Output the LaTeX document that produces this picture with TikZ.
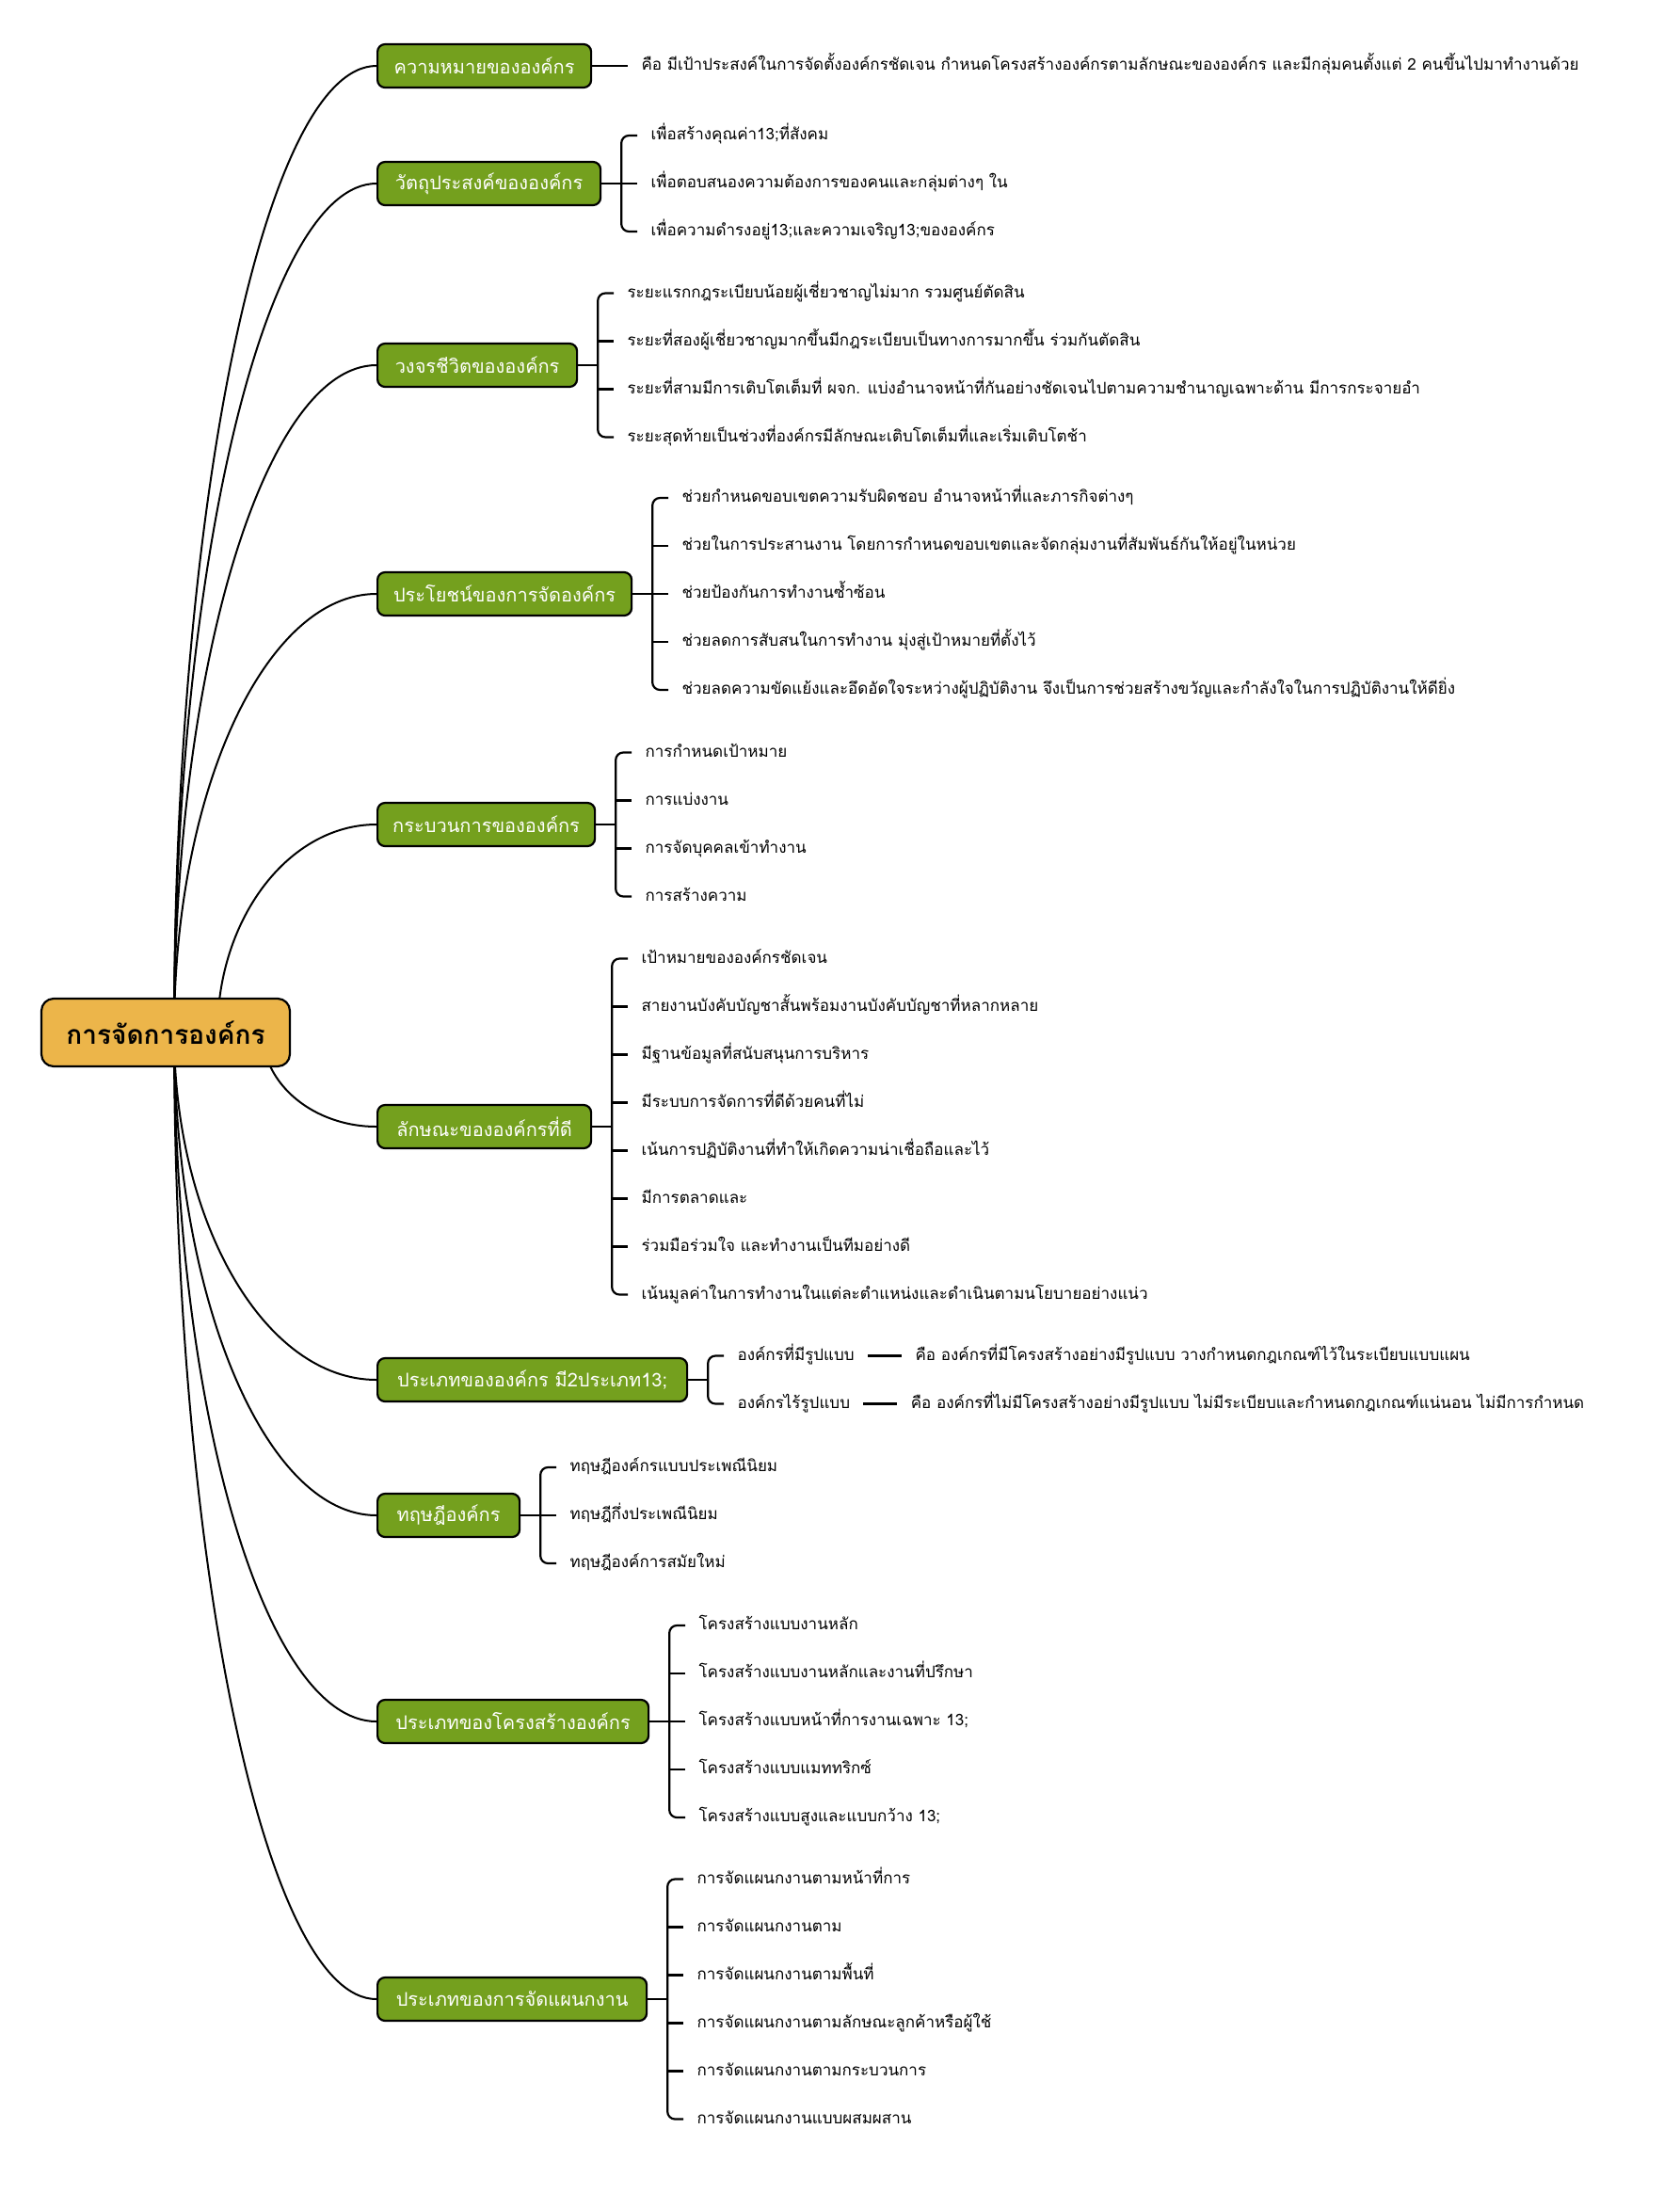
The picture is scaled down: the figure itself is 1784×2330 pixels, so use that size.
\documentclass[tikz,border=0pt]{standalone}
\usepackage{fontspec}
\usetikzlibrary{calc,positioning}
\newfontfamily\thaifont[Script=Thai]{Loma}
\definecolor{rootgold}{HTML}{ECB54A}
\definecolor{topicgreen}{HTML}{74A01E}

\tikzset{
  rootbox/.style={draw=black, line width=1.1pt, rounded corners=6.5pt, fill=rootgold,
    minimum width=132pt, minimum height=36pt,
    font=\thaifont\fontsize{14}{16}\selectfont\bfseries},
  topic/.style={draw=black, line width=1.1pt, rounded corners=4pt, fill=topicgreen,
    text=white, minimum height=23pt, anchor=west,
    font=\thaifont\fontsize{10}{12}\selectfont},
  leaf/.style={anchor=west, inner xsep=7pt, inner ysep=0pt, text height=7pt, text depth=2.5pt,
    font=\thaifont\fontsize{8.5}{10}\selectfont},
  curveline/.style={line width=1pt},
  bracket/.style={line width=1.1pt, rounded corners=4pt},
}

% curve from a hub under the root to the west side of a topic
\newcommand{\rootlink}[2]{%
  \draw[curveline] (#1) .. controls ($(#1)!0.55!(#1|-#2.west)$)
    and ($(#2.west)!0.55!(#1|-#2.west)$) .. (#2.west);}

% leaves of one topic: #1 topic, #2 number of leaves, #3 texts
\newcommand{\topicleaves}[3]{%
  \draw[bracket] (#1.east) -- ++(21,0) coordinate (#1-j);
  \foreach \t [count=\i] in {#3} {
    \node[leaf] (#1-\i) at ($(#1.east)+(38,{(\i-(#2+1)/2)*51})$) {\t};
    \ifnum\i>1 \ifnum\i<#2 \draw[bracket] (#1-j |- #1-\i.west) -- (#1-\i.west); \fi\fi
  }
  \ifnum#2=1
    \draw[bracket] (#1-j) -- (#1-1.west);
  \else
    \draw[bracket] (#1-1.west) -| (#1-#2.west -| #1-j) -- (#1-#2.west);
  \fi}

\begin{document}
\begin{tikzpicture}[x=0.5pt, y=-0.5pt]
  \path[fill=white] (0,0) rectangle (1784,2330);

  % === topics ===
  \node[topic, minimum width=113.5pt] (mean) at (400,70) {ความหมายขององค์กร};
  \node[topic, minimum width=118.5pt] (goal) at (400,195) {วัตถุประสงค์ขององค์กร};
  \node[topic, minimum width=106pt] (life) at (400,388) {วงจรชีวิตขององค์กร};
  \node[topic, minimum width=135pt] (gain) at (400,631) {ประโยชน์ของการจัดองค์กร};
  \node[topic, minimum width=115.5pt] (proc) at (400,876) {กระบวนการขององค์กร};
  \node[topic, minimum width=113.5pt] (good) at (400,1197) {ลักษณะขององค์กรที่ดี};
  \node[topic, minimum width=164.5pt] (kind) at (400,1466) {ประเภทขององค์กร มี2ประเภท13;};
  \node[topic, minimum width=75.5pt] (theo) at (400,1610) {ทฤษฎีองค์กร};
  \node[topic, minimum width=144pt] (struct) at (400,1829) {ประเภทของโครงสร้างองค์กร};
  \node[topic, minimum width=143pt] (dept) at (400,2124) {ประเภทของการจัดแผนกงาน};

  % === leaves ===
  \topicleaves{mean}{1}{{คือ มีเป้าประสงค์ในการจัดตั้งองค์กรชัดเจน กำหนดโครงสร้างองค์กรตามลักษณะขององค์กร และมีกลุ่มคนตั้งแต่ 2 คนขึ้นไปมาทำงานด้วย}}
  \topicleaves{goal}{3}{{เพื่อสร้างคุณค่า13;ที่สังคม},
    {เพื่อตอบสนองความต้องการของคนและกลุ่มต่างๆ ใน},
    {เพื่อความดำรงอยู่13;และความเจริญ13;ขององค์กร}}
  \topicleaves{life}{4}{{ระยะแรกกฎระเบียบน้อยผู้เชี่ยวชาญไม่มาก รวมศูนย์ตัดสิน},
    {ระยะที่สองผู้เชี่ยวชาญมากขึ้นมีกฎระเบียบเป็นทางการมากขึ้น ร่วมกันตัดสิน},
    {ระยะที่สามมีการเติบโตเต็มที่ ผจก. แบ่งอำนาจหน้าที่กันอย่างชัดเจนไปตามความชำนาญเฉพาะด้าน มีการกระจายอำ},
    {ระยะสุดท้ายเป็นช่วงที่องค์กรมีลักษณะเติบโตเต็มที่และเริ่มเติบโตช้า}}
  \topicleaves{gain}{5}{{ช่วยกำหนดขอบเขตความรับผิดชอบ อำนาจหน้าที่และภารกิจต่างๆ},
    {ช่วยในการประสานงาน โดยการกำหนดขอบเขตและจัดกลุ่มงานที่สัมพันธ์กันให้อยู่ในหน่วย},
    {ช่วยป้องกันการทำงานซ้ำซ้อน},
    {ช่วยลดการสับสนในการทำงาน มุ่งสู่เป้าหมายที่ตั้งไว้},
    {ช่วยลดความขัดแย้งและอึดอัดใจระหว่างผู้ปฏิบัติงาน จึงเป็นการช่วยสร้างขวัญและกำลังใจในการปฏิบัติงานให้ดียิ่ง}}
  \topicleaves{proc}{4}{{การกำหนดเป้าหมาย}, {การแบ่งงาน}, {การจัดบุคคลเข้าทำงาน}, {การสร้างความ}}
  \topicleaves{good}{8}{{เป้าหมายขององค์กรชัดเจน},
    {สายงานบังคับบัญชาสั้นพร้อมงานบังคับบัญชาที่หลากหลาย},
    {มีฐานข้อมูลที่สนับสนุนการบริหาร},
    {มีระบบการจัดการที่ดีด้วยคนที่ไม่},
    {เน้นการปฏิบัติงานที่ทำให้เกิดความน่าเชื่อถือและไว้},
    {มีการตลาดและ},
    {ร่วมมือร่วมใจ และทำงานเป็นทีมอย่างดี},
    {เน้นมูลค่าในการทำงานในแต่ละตำแหน่งและดำเนินตามนโยบายอย่างแน่ว}}
  \topicleaves{kind}{2}{{องค์กรที่มีรูปแบบ}, {องค์กรไร้รูปแบบ}}
  \topicleaves{theo}{3}{{ทฤษฎีองค์กรแบบประเพณีนิยม}, {ทฤษฎีกึ่งประเพณีนิยม}, {ทฤษฎีองค์การสมัยใหม่}}
  \topicleaves{struct}{5}{{โครงสร้างแบบงานหลัก},
    {โครงสร้างแบบงานหลักและงานที่ปรึกษา},
    {โครงสร้างแบบหน้าที่การงานเฉพาะ 13;},
    {โครงสร้างแบบแมททริกซ์},
    {โครงสร้างแบบสูงและแบบกว้าง 13;}}
  \topicleaves{dept}{6}{{การจัดแผนกงานตามหน้าที่การ},
    {การจัดแผนกงานตาม},
    {การจัดแผนกงานตามพื้นที่},
    {การจัดแผนกงานตามลักษณะลูกค้าหรือผู้ใช้},
    {การจัดแผนกงานตามกระบวนการ},
    {การจัดแผนกงานแบบผสมผสาน}}

  % คำอธิบายของประเภทองค์กร
  \node[leaf, right=18pt of kind-1] (kind-1d) {คือ องค์กรที่มีโครงสร้างอย่างมีรูปแบบ วางกำหนดกฎเกณฑ์ไว้ในระเบียบแบบแผน};
  \node[leaf, right=18pt of kind-2] (kind-2d) {คือ องค์กรที่ไม่มีโครงสร้างอย่างมีรูปแบบ ไม่มีระเบียบและกำหนดกฎเกณฑ์แน่นอน ไม่มีการกำหนด};
  \draw[bracket] (kind-1) -- (kind-1d);
  \draw[bracket] (kind-2) -- (kind-2d);

  % === curves from the root ===
  \coordinate (hubup) at (185,1097);
  \coordinate (hubproc) at (231,1097);
  \coordinate (hubgood) at (279,1097);
  \foreach \b in {mean,goal,life,gain,kind,theo,struct,dept} {\rootlink{hubup}{\b}}
  \rootlink{hubproc}{proc}
  \rootlink{hubgood}{good}

  \node[rootbox] (root) at (176,1097) {การจัดการองค์กร};
\end{tikzpicture}
\end{document}
